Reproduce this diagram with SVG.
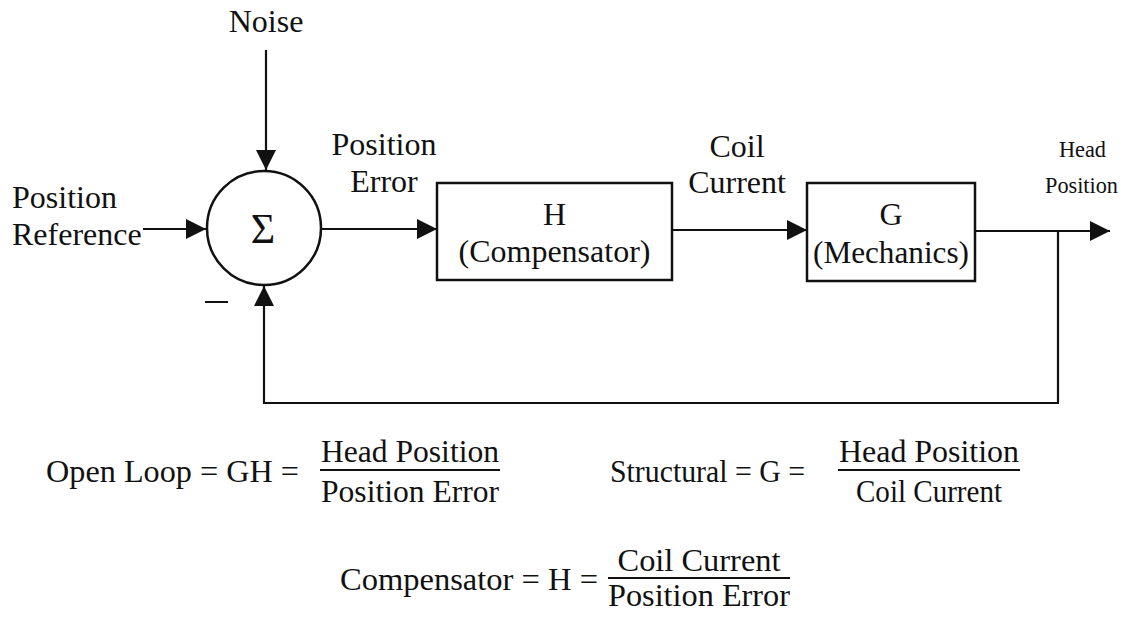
<svg xmlns="http://www.w3.org/2000/svg" width="1127" height="617" viewBox="0 0 1127 617">
  <style>
    text { font-family: "Liberation Serif", "Times New Roman", serif; font-size: 32px; fill: #111; }
    .c { text-anchor: middle; }
    .sig { font-size: 42px; }
    .hp { font-size: 24px; }
    .ln { stroke: #111; stroke-width: 2.2; fill: none; }
    .box { stroke: #111; stroke-width: 2.5; fill: #fff; }
    .bar { stroke: #111; stroke-width: 2; }
  </style>
  <defs>
    <marker id="arr" markerUnits="userSpaceOnUse" markerWidth="22" markerHeight="22" refX="20" refY="10" orient="auto" viewBox="0 0 22 22">
      <path d="M0,0 L20,10 L0,20 Z" fill="#111"/>
    </marker>
  </defs>
  <rect width="1127" height="617" fill="#fff"/>

  <g id="connectors">
    <line class="ln" x1="266" y1="50" x2="266" y2="170" marker-end="url(#arr)"/>
    <line class="ln" x1="143" y1="229" x2="206" y2="229" marker-end="url(#arr)"/>
    <line class="ln" x1="322" y1="229" x2="437" y2="229" marker-end="url(#arr)"/>
    <line class="ln" x1="672" y1="230" x2="807" y2="230" marker-end="url(#arr)"/>
    <line class="ln" x1="975" y1="231" x2="1110" y2="231" marker-end="url(#arr)"/>
    <polyline class="ln" points="1058,231 1058,403 264,403 264,286" marker-end="url(#arr)"/>
  </g>

  <g id="sum">
    <circle cx="264" cy="228" r="57" class="box"/>
    <text x="263" y="243" class="c sig">Σ</text>
  </g>

  <g id="minus">
    <line class="bar" x1="205" y1="302" x2="228" y2="302"/>
  </g>

  <g id="compensator">
    <rect x="437" y="183" width="235" height="97" class="box"/>
    <text x="554.5" y="225" class="c">H</text>
    <text x="554.5" y="262" class="c">(Compensator)</text>
  </g>

  <g id="mechanics">
    <rect x="807" y="183" width="168" height="98" class="box"/>
    <text x="891" y="225" class="c">G</text>
    <text x="891" y="263" class="c" textLength="156" lengthAdjust="spacingAndGlyphs">(Mechanics)</text>
  </g>

  <g id="labels">
    <text x="266" y="32" class="c">Noise</text>
    <text x="12" y="208">Position</text>
    <text x="12" y="245">Reference</text>
    <text x="384" y="155" class="c">Position</text>
    <text x="384" y="192" class="c">Error</text>
    <text x="737" y="157" class="c">Coil</text>
    <text x="737" y="193" class="c">Current</text>
    <text x="1059" y="157" class="hp" textLength="47" lengthAdjust="spacingAndGlyphs">Head</text>
    <text x="1045" y="193" class="hp" textLength="73" lengthAdjust="spacingAndGlyphs">Position</text>
  </g>

  <g id="formula-open-loop">
    <text x="46" y="482" textLength="253" lengthAdjust="spacingAndGlyphs">Open Loop = GH =</text>
    <text x="410" y="462" class="c" textLength="178" lengthAdjust="spacingAndGlyphs">Head Position</text>
    <line class="bar" x1="320" y1="470" x2="500" y2="470"/>
    <text x="410" y="502" class="c" textLength="178" lengthAdjust="spacingAndGlyphs">Position Error</text>
  </g>

  <g id="formula-structural">
    <text x="610" y="482" textLength="195" lengthAdjust="spacingAndGlyphs">Structural = G =</text>
    <text x="929" y="462" class="c" textLength="180" lengthAdjust="spacingAndGlyphs">Head Position</text>
    <line class="bar" x1="838" y1="470" x2="1020" y2="470"/>
    <text x="929" y="502" class="c" textLength="146" lengthAdjust="spacingAndGlyphs">Coil Current</text>
  </g>

  <g id="formula-compensator">
    <text x="340" y="590" textLength="258" lengthAdjust="spacingAndGlyphs">Compensator = H =</text>
    <text x="699" y="571" class="c" textLength="163" lengthAdjust="spacingAndGlyphs">Coil Current</text>
    <line class="bar" x1="608" y1="578" x2="790" y2="578"/>
    <text x="699" y="606" class="c" textLength="182" lengthAdjust="spacingAndGlyphs">Position Error</text>
  </g>
</svg>
